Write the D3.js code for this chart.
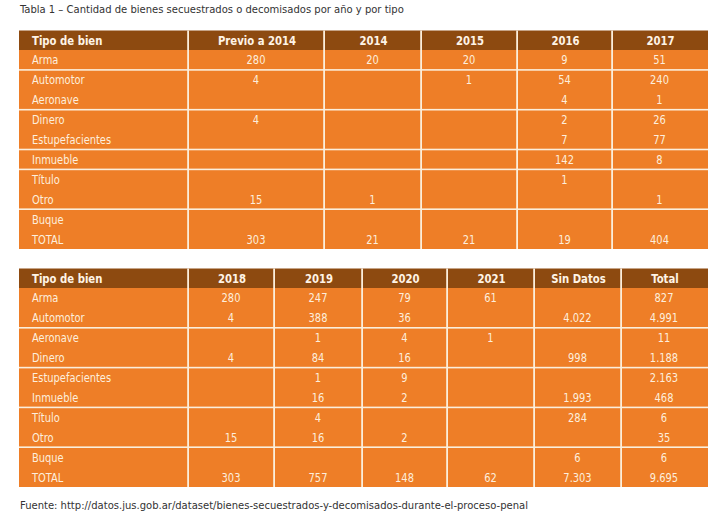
<!DOCTYPE html>
<html><head><meta charset="utf-8">
<script src="https://cdn.jsdelivr.net/npm/d3@7"></script>
<style>
body{margin:0;background:#fff;}
text{font-family:"Liberation Sans Narrow","DejaVu Sans Condensed","Roboto",sans-serif;}
</style></head>
<body><svg id="c" width="728" height="521"></svg>
<script>
const title = "Tabla 1 – Cantidad de bienes secuestrados o decomisados por año y por tipo";
const source = "Fuente: http://datos.jus.gob.ar/dataset/bienes-secuestrados-y-decomisados-durante-el-proceso-penal";
const rowHeader = "Tipo de bien";
const types = ["Arma","Automotor","Aeronave","Dinero","Estupefacientes","Inmueble","Título","Otro","Buque","TOTAL"];

const colsTop = ["Previo a 2014","2014","2015","2016","2017"];
const valsTop = [
  ["280","20","20","9","51"],
  ["4","","1","54","240"],
  ["","","","4","1"],
  ["4","","","2","26"],
  ["","","","7","77"],
  ["","","","142","8"],
  ["","","","1",""],
  ["15","1","","","1"],
  ["","","","",""],
  ["303","21","21","19","404"]
];
const groupsTop = [1,2,2,1,2,2]; // rows per band

const colsBot = ["2018","2019","2020","2021","Sin Datos","Total"];
const valsBot = [
  ["280","247","79","61","","827"],
  ["4","388","36","","4.022","4.991"],
  ["","1","4","1","","11"],
  ["4","84","16","","998","1.188"],
  ["","1","9","","","2.163"],
  ["","16","2","","1.993","468"],
  ["","4","","","284","6"],
  ["15","16","2","","","35"],
  ["","","","","6","6"],
  ["303","757","148","62","7.303","9.695"]
];
const groupsBot = [2,2,2,2,2];

// layout
const HEAD = "#8d4a10", BODY = "#ee7e27", SEP = "#fbeedb", TXT = "#fdeedd";
const FS = 12.5, K = 0.88;
const svg = d3.select("#c");

function condense(sel, k){
  sel.each(function(){
    const x=+this.getAttribute("x");
    this.setAttribute("transform",`translate(${x},0) scale(${k},1) translate(${-x},0)`);
  });
}

function drawTable(top, edges, cols, vals, groups){
  const g = svg.append("g");
  const allCols = [rowHeader].concat(cols);
  const left = edges[0], right = edges[edges.length-1];
  const x0 = d3.scaleOrdinal().domain(allCols).range(edges.slice(0,-1));
  const x1 = d3.scaleOrdinal().domain(allCols).range(edges.slice(1));
  const headH = 19.5;
  const y = d3.scaleBand().domain(types).range([top+headH, top+headH+199]).padding(0);
  g.append("rect").attr("x",left).attr("y",top).attr("width",right-left).attr("height",headH).attr("fill",HEAD);
  g.append("rect").attr("x",left).attr("y",top+headH).attr("width",right-left).attr("height",199).attr("fill",BODY);
  let acc=0;
  groups.slice(0,-1).forEach(n=>{acc+=n;
    g.append("rect").attr("x",left).attr("y",y(types[acc])-0.8).attr("width",right-left).attr("height",1.6).attr("fill",SEP);});
  allCols.slice(1).forEach(c=>{
    g.append("rect").attr("x",x0(c)-1.8).attr("y",top).attr("width",1.8).attr("height",headH+199).attr("fill",SEP);});
  g.selectAll(".h").data(allCols).join("text")
    .attr("x",(d,i)=> i===0 ? left+13 : (x0(d)+x1(d))/2)
    .attr("y",top+headH/2+4.5)
    .attr("text-anchor",(d,i)=> i===0?"start":"middle")
    .attr("fill","#fff4e6").attr("font-weight","bold").attr("font-size",FS)
    .text(d=>d).call(condense,0.9);
  g.selectAll(".r").data(types).join("text")
    .attr("x",left+13).attr("y",d=>y(d)+y.bandwidth()/2+4.5)
    .attr("fill",TXT).attr("font-size",FS).text(d=>d).call(condense,K);
  types.forEach((t,ri)=>{
    g.selectAll(null).data(cols.map((c,ci)=>({c,v:vals[ri][ci]})).filter(d=>d.v!=="")).join("text")
      .attr("x",d=>(x0(d.c)+x1(d.c))/2-1).attr("y",y(t)+y.bandwidth()/2+4.5)
      .attr("text-anchor","middle").attr("fill",TXT).attr("font-size",FS).text(d=>d.v).call(condense,K);
  });
}

svg.append("text").attr("x",20).attr("y",13).attr("fill","#333").attr("font-size",11.3).text(title).call(condense,0.985);
drawTable(30.5, [19,189,325,422,518,613,708], colsTop, valsTop, groupsTop);
drawTable(268.5, [19,189,275,363,448,535,622,708], colsBot, valsBot, groupsBot);
svg.append("text").attr("x",20).attr("y",509).attr("fill","#333").attr("font-size",11.3).text(source).call(condense,0.985);
</script></body></html>
